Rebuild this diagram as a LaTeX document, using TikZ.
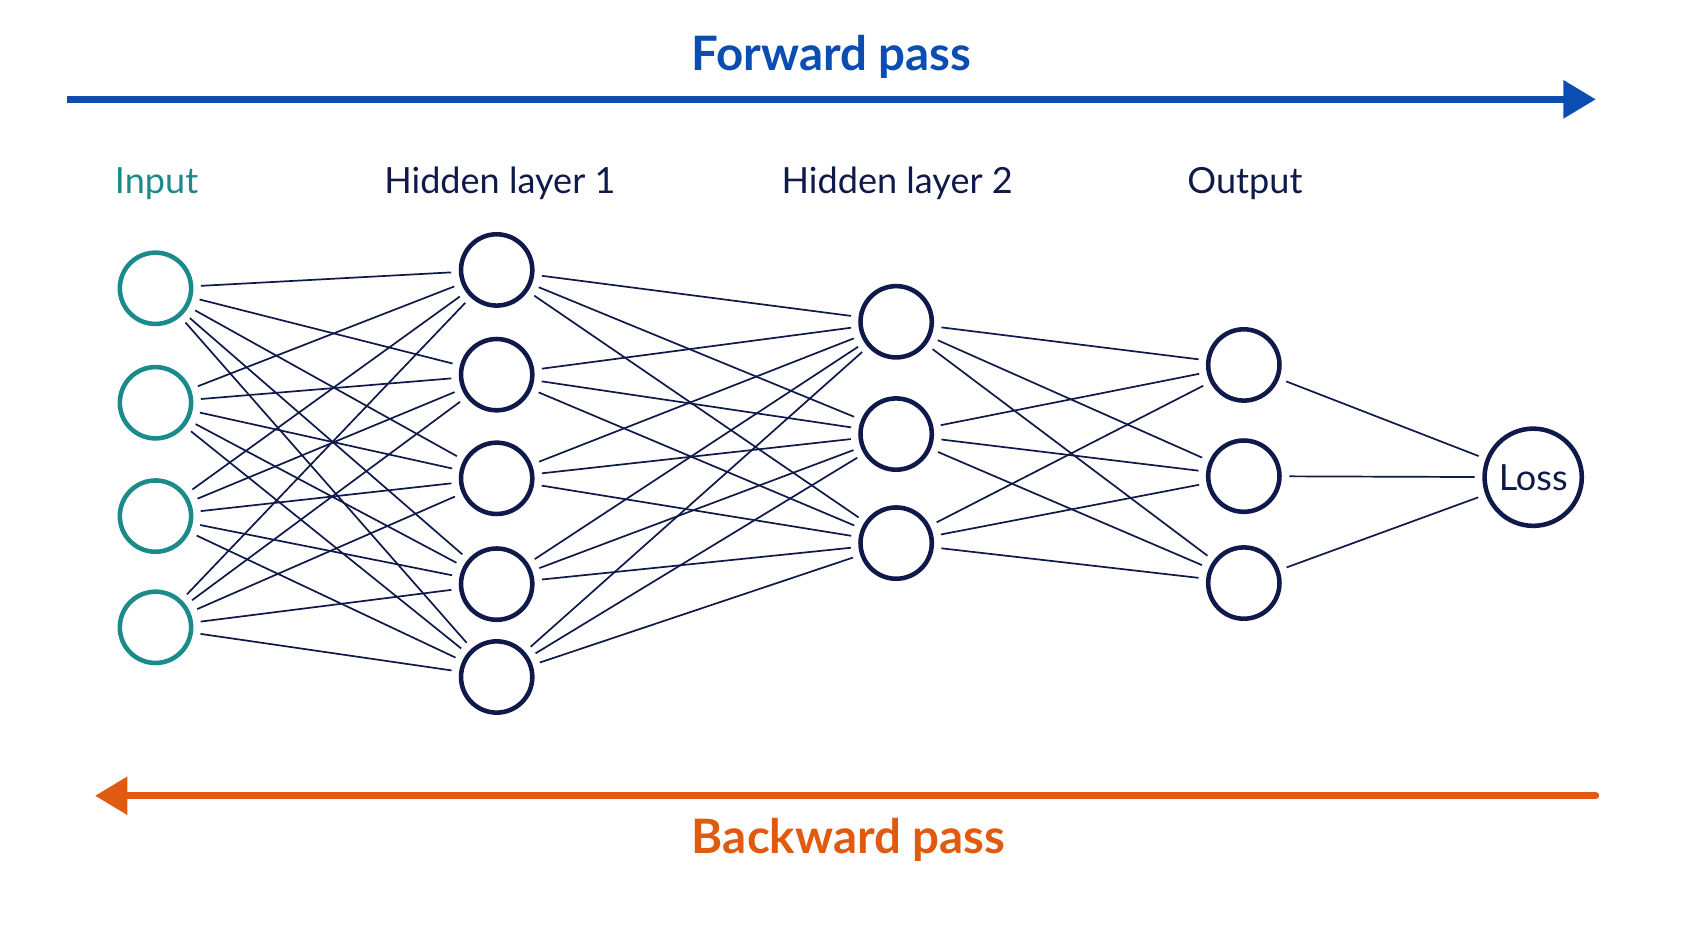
\documentclass[tikz,border=0pt]{standalone}
\usepackage{fontspec}
\setmainfont{Lato}
\usetikzlibrary{arrows.meta}
\definecolor{inteal}{HTML}{1A8A8A}
\definecolor{navy}{HTML}{101A4A}
\definecolor{fwblue}{HTML}{0B4DB0}
\definecolor{bworange}{HTML}{E05A10}
\begin{document}
\begin{tikzpicture}[x=0.01cm,y=-0.01cm,
    neuron/.style={circle, draw=navy, line width=1.2pt, minimum size=0.66cm, inner sep=0pt, fill=white},
    inneuron/.style={neuron, draw=inteal},
    layerlabel/.style={font=\fontsize{9.5}{11}\selectfont, text=navy},
    link/.style={draw=navy, line width=0.45pt, shorten <=2pt, shorten >=2pt},
    pass/.style={line width=1.8pt, -{Triangle[length=0.3cm,width=0.34cm]}}
]
\useasboundingbox (0,0) rectangle (1568,860);

% Labels
\node[layerlabel, text=inteal] (linput) at (145,170) {Input};
\node[layerlabel] (lh1) at (463,170) {Hidden layer 1};
\node[layerlabel] (lh2) at (831,170) {Hidden layer 2};
\node[layerlabel] (lout) at (1153,170) {Output};

% Neurons
\foreach \y [count=\i] in {267,373,478,581}
  \node[inneuron] (in\i) at (144,\y) {};
\foreach \y [count=\i] in {250,347,443,541,627}
  \node[neuron] (ha\i) at (460,\y) {};
\foreach \y [count=\i] in {298,402,503}
  \node[neuron] (hb\i) at (830,\y) {};
\foreach \y [count=\i] in {338,441,540}
  \node[neuron] (out\i) at (1152,\y) {};
\node[neuron, minimum size=0.9cm, font=\fontsize{9.5}{11}\selectfont, text=navy] (loss) at (1420,442) {Loss};

% Connections
\foreach \i in {1,...,4}
  \foreach \j in {1,...,5}
    \draw[link] (in\i) -- (ha\j);
\foreach \i in {1,...,5}
  \foreach \j in {1,...,3}
    \draw[link] (ha\i) -- (hb\j);
\foreach \i in {1,...,3}
  \foreach \j in {1,...,3}
    \draw[link] (hb\i) -- (out\j);
\foreach \i in {1,...,3}
  \draw[link] (out\i) -- (loss);

% Passes
\coordinate (fwa) at (62,92);
\coordinate (fwb) at (1478,92);
\coordinate (bwa) at (1478,737);
\coordinate (bwb) at (88,737);
\draw[pass, fwblue] (fwa) -- (fwb);
\draw[pass, bworange, line cap=round] (bwa) -- (bwb);
\node[font=\fontsize{12.5}{15}\selectfont\bfseries, text=fwblue] (fwlabel) at (770,53) {Forward pass};
\node[font=\fontsize{12.5}{15}\selectfont\bfseries, text=bworange] (bwlabel) at (786,778) {Backward pass};
\end{tikzpicture}
\end{document}
